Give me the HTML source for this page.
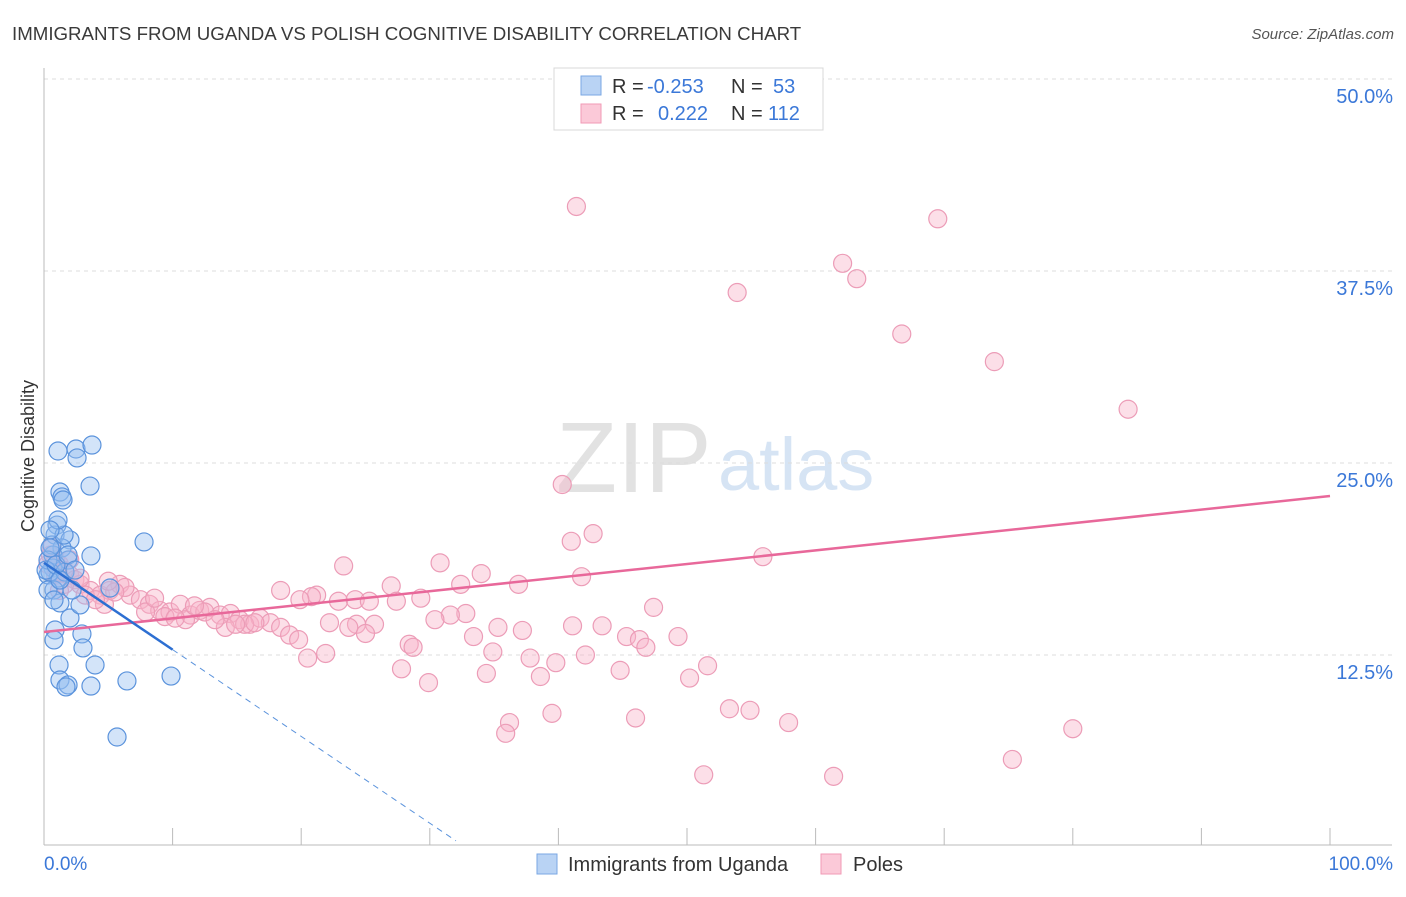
<!DOCTYPE html>
<html><head><meta charset="utf-8"><style>
body{margin:0;background:#fff;font-family:"Liberation Sans",sans-serif;}
svg text{font-family:"Liberation Sans",sans-serif;}
</style></head><body>
<svg id="chart" width="1406" height="892" xmlns="http://www.w3.org/2000/svg">
<text x="12" y="40" font-size="18.7" fill="#3a3a3a">IMMIGRANTS FROM UGANDA VS POLISH COGNITIVE DISABILITY CORRELATION CHART</text>
<text x="1394" y="39" font-size="15" fill="#555" font-style="italic" text-anchor="end">Source: ZipAtlas.com</text>
<text x="556" y="492" font-size="100" fill="#d0d0d0" font-family="Liberation Serif" opacity="0.6">ZIP</text>
<text x="718" y="490" font-size="74" fill="#bcd3ee" opacity="0.6">atlas</text>
<g id="grid"></g>
<g id="axes"></g>
<g id="points"></g>
<g id="trends"></g>
<text transform="translate(34,456) rotate(-90)" font-size="18" fill="#333" text-anchor="middle">Cognitive Disability</text>
<g>
<rect x="554" y="68" width="269" height="62" fill="#fff" stroke="#d8d8d8"/>
<rect x="581" y="76" width="20" height="19" fill="#b9d3f4" stroke="#7aa7e3"/>
<rect x="581" y="104" width="20" height="19" fill="#fbc9d8" stroke="#f09ab6"/>
<text x="612" y="93" font-size="20" fill="#333">R = </text><text x="647" y="93" font-size="20" fill="#3b78d8">-0.253</text>
<text x="731" y="93" font-size="20" fill="#333">N = </text><text x="773" y="93" font-size="20" fill="#3b78d8">53</text>
<text x="612" y="120" font-size="20" fill="#333">R = </text><text x="658" y="120" font-size="20" fill="#3b78d8">0.222</text>
<text x="731" y="120" font-size="20" fill="#333">N = </text><text x="768" y="120" font-size="20" fill="#3b78d8">112</text>
</g>
<g>
<rect x="537" y="854" width="20" height="20" fill="#b9d3f4" stroke="#7aa7e3"/>
<text x="568" y="871" font-size="20" fill="#333">Immigrants from Uganda</text>
<rect x="821" y="854" width="20" height="20" fill="#fbc9d8" stroke="#f09ab6"/>
<text x="853" y="871" font-size="20" fill="#333">Poles</text>
</g>
</svg>
<script>
const xTicks=[0,10,20,30,40,50,60,70,80,90,100];
const yTicks=[12.5,25,37.5,50];
const yTickLabels=["12.5%","25.0%","37.5%","50.0%"];
const xEdgeLabels=["0.0%","100.0%"];
const ugandaX=[1.09,2.49,3.73,2.57,3.58,1.24,1.40,1.48,3.65,7.78,1.01,0.86,2.02,1.40,0.70,1.87,0.70,0.31,1.09,0.78,1.24,2.02,2.80,2.95,3.03,0.86,0.78,1.17,3.97,1.24,1.87,1.71,3.65,6.45,9.88,5.68,0.62,0.47,0.31,0.16,1.63,0.93,5.13,0.31,0.78,2.18,1.24,0.47,1.56,1.09,0.47,1.87,2.41];
const ugandaY=[25.78,25.91,26.17,25.33,23.5,23.11,22.79,22.59,18.95,19.86,20.96,20.31,19.99,19.47,19.01,18.68,18.16,17.71,17.51,16.73,15.89,14.91,15.76,13.87,12.96,14.13,13.48,11.85,11.85,10.87,10.55,10.42,10.48,10.81,11.13,7.16,19.66,17.9,18.68,18.03,17.9,18.36,16.86,16.73,16.08,16.73,17.38,19.47,20.31,21.29,20.64,19.01,18.03];
const polesX=[41.4,69.5,62.1,63.2,53.9,66.7,73.9,84.3,40.3,42.7,41.0,55.9,30.8,23.3,34.0,41.8,27.0,32.4,36.9,18.4,21.2,20.8,19.9,22.9,24.2,25.3,27.4,29.3,47.4,32.8,31.6,30.4,22.2,24.3,25.7,23.7,25.0,33.4,35.3,37.2,41.1,43.4,45.3,46.3,46.8,49.3,28.4,28.7,34.9,37.8,42.1,39.8,20.5,21.9,27.8,34.4,44.8,51.6,50.2,38.6,29.9,53.3,54.9,39.5,46.0,36.2,35.9,57.9,80.0,75.3,51.3,61.4,
0.5,0.9,1.2,1.6,2.0,2.4,2.8,3.6,4.4,5.1,5.9,6.7,7.5,8.2,9.0,9.8,10.6,11.4,12.1,12.9,13.7,14.5,15.2,16.0,16.8,17.6,18.4,19.1,0.9,1.6,3.2,4.7,6.3,7.9,9.4,11.0,12.5,14.1,15.6,0.3,2.0,4.0,5.5,8.6,10.2,11.7,13.3,14.9,16.4,1.2,2.8,5.0,19.8,0.6,1.1];
const polesY=[41.7,40.9,38.0,37.0,36.1,33.4,31.6,28.5,23.6,20.4,19.9,18.9,18.5,18.3,17.8,17.6,17.0,17.1,17.1,16.7,16.4,16.3,16.1,16.0,16.1,16.0,16.0,16.2,15.6,15.2,15.1,14.8,14.6,14.5,14.5,14.3,13.9,13.7,14.3,14.1,14.4,14.4,13.7,13.5,13.0,13.7,13.2,13.0,12.7,12.3,12.5,12.0,12.3,12.6,11.6,11.3,11.5,11.8,11.0,11.1,10.7,9.0,8.9,8.7,8.4,8.1,7.4,8.1,7.7,5.7,4.7,4.6,
19.0,18.7,18.4,18.0,17.7,17.4,17.1,16.7,16.4,16.7,17.1,16.4,16.1,15.8,15.4,15.3,15.8,15.1,15.4,15.6,15.1,15.2,14.8,14.5,14.9,14.6,14.3,13.8,17.7,17.1,16.4,15.8,16.9,15.3,15.0,14.8,15.3,14.3,14.5,18.4,18.7,16.1,16.6,16.2,14.9,15.7,14.8,14.5,14.6,16.7,17.5,17.3,13.5,19.5,17.9];
const ugandaTrend=[18.5,-0.565]; // intercept, slope
const polesTrend=[14.0,0.0885];

const X0=44,X1=1330,Y0=847,PX_PER_Y=15.36;
const sx=v=>X0+(X1-X0)*v/100;
const sy=v=>Y0-v*PX_PER_Y;
const NS="http://www.w3.org/2000/svg";
function mk(tag,attrs,parent){const e=document.createElementNS(NS,tag);for(const k in attrs)e.setAttribute(k,attrs[k]);parent.appendChild(e);return e;}
const grid=document.getElementById('grid'),axes=document.getElementById('axes'),pts=document.getElementById('points'),tr=document.getElementById('trends');
yTicks.forEach((t,i)=>{
 const l=mk('line',{x1:44,x2:1392,y1:sy(t),y2:sy(t),stroke:'#dcdcdc','stroke-dasharray':'4,4'},grid);
 
 
 const tx=mk('text',{x:1393,y:sy(t)+24,'font-size':20,fill:'#3b78d8','text-anchor':'end'},axes);
 tx.textContent=yTickLabels[i];
 
 
});
const al=mk('line',{x1:44,x2:44,y1:68,y2:845,stroke:'#bbb'},axes);


const bl=mk('line',{x1:44,x2:1392,y1:845,y2:845,stroke:'#bbb'},axes);


xTicks.forEach(t=>{
 const l=mk('line',{x1:sx(t),x2:sx(t),y1:828,y2:845,stroke:'#bbb'},axes);
 
 
});
const xl0=mk('text',{x:44,y:870,'font-size':19,fill:'#3b78d8'},axes);xl0.textContent=xEdgeLabels[0];


const xl1=mk('text',{x:1393,y:870,'font-size':19,fill:'#3b78d8','text-anchor':'end'},axes);xl1.textContent=xEdgeLabels[1];


polesX.forEach((x,i)=>{
 const c=mk('circle',{cx:sx(x),cy:sy(polesY[i]),r:9,fill:'rgba(248,178,200,0.42)',stroke:'#ec9cb7','stroke-width':1.2},pts);
 
 
});
ugandaX.forEach((x,i)=>{
 const c=mk('circle',{cx:sx(x),cy:sy(ugandaY[i]),r:9,fill:'rgba(150,190,240,0.42)',stroke:'#5b93dc','stroke-width':1.2},pts);
 
 
});
const pl=mk('line',{x1:sx(0),y1:sy(polesTrend[0]),x2:sx(100),y2:sy(polesTrend[0]+polesTrend[1]*100),stroke:'#e8689a','stroke-width':2.5},tr);


const ue=10,ud=(0.4-ugandaTrend[0])/ugandaTrend[1];
const u1=mk('line',{x1:sx(0),y1:sy(ugandaTrend[0]),x2:sx(ue),y2:sy(ugandaTrend[0]+ugandaTrend[1]*ue),stroke:'#2d6fd2','stroke-width':2.5},tr);


const u2=mk('line',{x1:sx(ue),y1:sy(ugandaTrend[0]+ugandaTrend[1]*ue),x2:sx(ud),y2:sy(ugandaTrend[0]+ugandaTrend[1]*ud),stroke:'#5b93dc','stroke-width':1,'stroke-dasharray':'6,5'},tr);


</script>
</body></html>
